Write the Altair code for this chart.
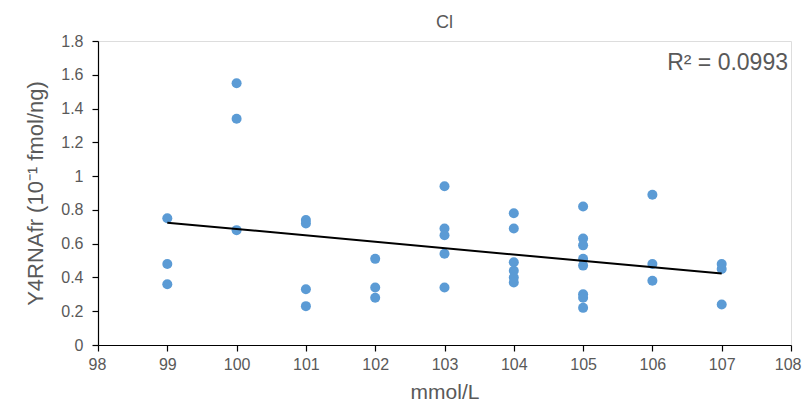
import altair as alt
import pandas as pd

x_vals = [99, 99, 99,
          100, 100, 100,
          101, 101, 101, 101,
          102, 102, 102,
          103, 103, 103, 103, 103,
          104, 104, 104, 104, 104, 104,
          105, 105, 105, 105, 105, 105, 105, 105,
          106, 106, 106,
          107, 107, 107]
y_vals = [0.75, 0.48, 0.36,
          1.55, 1.34, 0.68,
          0.74, 0.72, 0.33, 0.23,
          0.51, 0.34, 0.28,
          0.94, 0.69, 0.65, 0.54, 0.34,
          0.78, 0.69, 0.49, 0.44, 0.40, 0.37,
          0.82, 0.63, 0.59, 0.51, 0.47, 0.30, 0.28, 0.22,
          0.89, 0.48, 0.38,
          0.48, 0.45, 0.24]
x_ticks = [98, 99, 100, 101, 102, 103, 104, 105, 106, 107, 108]
y_ticks = [0, 0.2, 0.4, 0.6, 0.8, 1, 1.2, 1.4, 1.6, 1.8]

df = pd.DataFrame({"x": x_vals, "y": y_vals})

grey = "#595959"
font = "Liberation Sans"

xscale = alt.Scale(domain=[98, 108], nice=False, zero=False)
yscale = alt.Scale(domain=[0, 1.8], nice=False)

xaxis = alt.Axis(title="mmol/L", values=x_ticks, format="d", grid=False,
                 domainColor="black", domainWidth=1.2, tickColor="black", tickSize=6,
                 tickWidth=1.2, ticks=True,
                 labelColor=grey, labelFontSize=16, labelFont=font, labelPadding=5,
                 labelOverlap=False, labelFlush=True, labelFlushOffset=10,
                 titleColor=grey, titleFontSize=21, titleFont=font,
                 titleFontWeight="normal", titlePadding=9)
yaxis = alt.Axis(title="Y4RNAfr (10⁻¹ fmol/ng)", values=y_ticks, format="~g",
                 grid=False, domainColor="black", domainWidth=1.2, tickColor="black",
                 tickSize=6, tickWidth=1.2, ticks=True,
                 labelColor=grey, labelFontSize=16, labelFont=font, labelPadding=9,
                 labelOverlap=False,
                 titleColor=grey, titleFontSize=22, titleFont=font,
                 titleFontWeight="normal", titlePadding=13, labelFlush=False)

base = alt.Chart(df)

points = base.mark_circle(size=100, opacity=1, color="#5B9BD5").encode(
    x=alt.X("x:Q", scale=xscale, axis=xaxis),
    y=alt.Y("y:Q", scale=yscale, axis=yaxis),
)

line = base.transform_regression("x", "y", extent=[99, 107]).mark_line(
    color="black", strokeWidth=2
).encode(x=alt.X("x:Q", scale=xscale, axis=xaxis),
         y=alt.Y("y:Q", scale=yscale, axis=yaxis))

r2 = alt.Chart(pd.DataFrame({"t": ["R² = 0.0993"]})).mark_text(
    align="right", baseline="middle", fontSize=23, font=font, color=grey
).encode(x=alt.value(690), y=alt.value(22), text="t:N")

chart = alt.layer(points, line, r2).properties(
    width=693, height=304,
    title=alt.TitleParams("Cl", fontSize=18, font=font, color=grey,
                          fontWeight="normal", anchor="middle", offset=1),
    autosize=alt.AutoSizeParams(type="none"),
    padding={"left": 90, "top": 33, "right": 12, "bottom": 58},
).configure_view(stroke="black", strokeWidth=1.2).configure(background="white")

chart.save("out.html", embed_options={"renderer": "svg", "actions": False})
